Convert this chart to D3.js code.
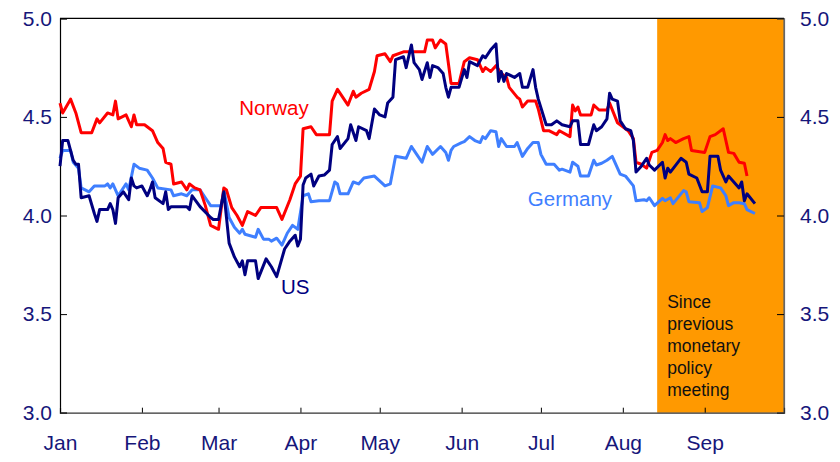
<!DOCTYPE html>
<html><head><meta charset="utf-8">
<script src="https://cdn.jsdelivr.net/npm/d3@7"></script>
<style>body{margin:0;background:#fff}svg{display:block;font-family:Arial,"Liberation Sans",sans-serif}</style>
</head><body><svg id="c" width="840" height="462"></svg>
<script>
const YEAR = 2008;
const monthLabels = ["Jan","Feb","Mar","Apr","May","Jun","Jul","Aug","Sep"];
const yTicks = [3.0, 3.5, 4.0, 4.5, 5.0];
const shadeStart = "08-14", shadeEnd = "10-01";
const shadeText = ["Since","previous","monetary","policy","meeting"];
const seriesNames = ["Norway","US","Germany"];
const norway = [["01-01",4.57],["01-02",4.52],["01-05",4.59],["01-07",4.52],["01-09",4.42],["01-13",4.42],["01-15",4.49],["01-16",4.47],["01-19",4.52],["01-21",4.51],["01-22",4.58],["01-23",4.49],["01-26",4.51],["01-28",4.45],["01-29",4.51],["01-30",4.46],["02-02",4.46],["02-05",4.43],["02-07",4.37],["02-09",4.34],["02-10",4.27],["02-12",4.26],["02-13",4.16],["02-16",4.17],["02-18",4.13],["02-19",4.16],["02-21",4.14],["02-23",4.13],["02-25",4.05],["02-27",3.95],["03-01",3.93],["03-03",4.14],["03-04",4.13],["03-06",4.04],["03-08",4.00],["03-10",3.95],["03-12",4.02],["03-15",4.00],["03-17",4.04],["03-19",4.04],["03-23",4.04],["03-25",3.98],["03-28",4.08],["03-30",4.16],["04-01",4.20],["04-02",4.44],["04-05",4.45],["04-07",4.41],["04-12",4.41],["04-13",4.58],["04-15",4.64],["04-19",4.56],["04-21",4.63],["04-22",4.60],["04-24",4.62],["04-27",4.64],["04-29",4.73],["04-30",4.81],["05-03",4.82],["05-05",4.78],["05-06",4.81],["05-10",4.83],["05-18",4.83],["05-19",4.89],["05-21",4.89],["05-22",4.85],["05-24",4.89],["05-26",4.87],["05-28",4.67],["05-31",4.67],["06-02",4.78],["06-04",4.80],["06-07",4.79],["06-09",4.73],["06-10",4.75],["06-12",4.73],["06-14",4.76],["06-16",4.72],["06-18",4.70],["06-19",4.65],["06-22",4.60],["06-23",4.59],["06-24",4.55],["06-26",4.58],["06-29",4.58],["06-30",4.54],["07-02",4.43],["07-04",4.43],["07-07",4.41],["07-08",4.43],["07-12",4.40],["07-13",4.56],["07-14",4.53],["07-15",4.55],["07-16",4.51],["07-20",4.51],["07-21",4.56],["07-23",4.535],["07-26",4.535],["07-27",4.57],["07-30",4.47],["08-03",4.43],["08-05",4.39],["08-06",4.27],["08-08",4.26],["08-10",4.24],["08-12",4.32],["08-14",4.33],["08-16",4.37],["08-17",4.41],["08-18",4.38],["08-19",4.39],["08-21",4.37],["08-24",4.39],["08-26",4.40],["08-27",4.33],["09-01",4.32],["09-03",4.40],["09-05",4.41],["09-08",4.44],["09-10",4.32],["09-12",4.315],["09-14",4.27],["09-16",4.265],["09-17",4.20]];
const us = [["01-01",4.25],["01-02",4.38],["01-04",4.38],["01-06",4.28],["01-07",4.26],["01-08",4.26],["01-09",4.09],["01-12",4.10],["01-14",4.01],["01-15",3.97],["01-16",4.03],["01-19",4.03],["01-20",4.06],["01-21",4.03],["01-22",3.96],["01-23",4.09],["01-25",4.12],["01-27",4.08],["01-28",4.19],["01-29",4.15],["01-30",4.14],["02-01",4.15],["02-03",4.10],["02-04",4.13],["02-05",4.17],["02-06",4.09],["02-09",4.06],["02-10",4.12],["02-11",4.03],["02-12",4.045],["02-18",4.045],["02-19",4.03],["02-20",4.10],["02-23",4.045],["02-27",3.99],["02-28",3.98],["03-01",3.98],["03-03",4.12],["03-05",3.86],["03-07",3.79],["03-09",3.74],["03-10",3.77],["03-11",3.70],["03-12",3.77],["03-15",3.77],["03-16",3.68],["03-19",3.78],["03-21",3.74],["03-23",3.69],["03-26",3.83],["03-28",3.87],["03-30",3.90],["03-31",3.845],["04-01",3.88],["04-02",4.155],["04-03",4.19],["04-05",4.21],["04-06",4.15],["04-08",4.20],["04-10",4.205],["04-12",4.23],["04-13",4.36],["04-15",4.40],["04-16",4.34],["04-19",4.39],["04-20",4.46],["04-22",4.38],["04-23",4.45],["04-26",4.43],["04-27",4.39],["04-29",4.54],["05-01",4.51],["05-03",4.50],["05-04",4.57],["05-06",4.60],["05-07",4.79],["05-10",4.805],["05-11",4.75],["05-13",4.865],["05-14",4.775],["05-16",4.74],["05-17",4.69],["05-19",4.775],["05-20",4.70],["05-21",4.76],["05-23",4.75],["05-25",4.72],["05-26",4.65],["05-27",4.60],["05-28",4.65],["05-31",4.65],["06-02",4.74],["06-03",4.70],["06-04",4.78],["06-07",4.76],["06-09",4.81],["06-10",4.80],["06-12",4.84],["06-14",4.87],["06-15",4.68],["06-16",4.73],["06-17",4.68],["06-18",4.72],["06-21",4.70],["06-23",4.72],["06-24",4.65],["06-26",4.65],["06-28",4.74],["06-29",4.65],["06-30",4.59],["07-03",4.46],["07-05",4.46],["07-07",4.48],["07-09",4.46],["07-12",4.45],["07-13",4.48],["07-15",4.48],["07-16",4.36],["07-19",4.36],["07-21",4.46],["07-22",4.43],["07-24",4.45],["07-26",4.49],["07-27",4.62],["07-28",4.59],["07-30",4.58],["07-31",4.48],["08-02",4.44],["08-04",4.43],["08-05",4.38],["08-06",4.22],["08-08",4.25],["08-10",4.29],["08-11",4.256],["08-13",4.23],["08-16",4.27],["08-17",4.19],["08-18",4.24],["08-19",4.22],["08-23",4.29],["08-25",4.27],["08-26",4.21],["08-29",4.19],["08-31",4.12],["09-02",4.12],["09-03",4.30],["09-06",4.30],["09-07",4.23],["09-09",4.17],["09-10",4.20],["09-14",4.14],["09-15",4.17],["09-16",4.075],["09-17",4.11],["09-20",4.06]];
const germany = [["01-01",4.29],["01-02",4.33],["01-05",4.33],["01-06",4.27],["01-08",4.24],["01-09",4.14],["01-12",4.12],["01-14",4.15],["01-18",4.15],["01-19",4.16],["01-20",4.14],["01-21",4.16],["01-23",4.10],["01-26",4.16],["01-27",4.13],["01-29",4.26],["01-31",4.24],["02-03",4.23],["02-05",4.19],["02-07",4.14],["02-12",4.13],["02-13",4.10],["02-16",4.11],["02-18",4.10],["02-20",4.13],["02-23",4.13],["02-25",4.09],["02-27",4.05],["03-02",4.05],["03-03",4.13],["03-05",3.99],["03-07",3.94],["03-09",3.91],["03-10",3.93],["03-11",3.905],["03-15",3.89],["03-16",3.93],["03-18",3.88],["03-20",3.88],["03-21",3.87],["03-23",3.885],["03-25",3.85],["03-27",3.91],["03-29",3.95],["03-31",3.93],["04-02",4.10],["04-04",4.11],["04-05",4.07],["04-08",4.075],["04-12",4.075],["04-14",4.17],["04-15",4.16],["04-16",4.11],["04-19",4.11],["04-21",4.17],["04-23",4.16],["04-25",4.19],["04-29",4.20],["05-03",4.15],["05-05",4.16],["05-07",4.30],["05-11",4.29],["05-13",4.35],["05-15",4.31],["05-17",4.27],["05-19",4.35],["05-21",4.31],["05-24",4.35],["05-26",4.32],["05-27",4.28],["05-28",4.33],["05-29",4.35],["06-01",4.37],["06-02",4.375],["06-04",4.40],["06-06",4.38],["06-08",4.37],["06-09",4.40],["06-10",4.39],["06-12",4.43],["06-14",4.425],["06-15",4.35],["06-16",4.39],["06-18",4.35],["06-21",4.35],["06-22",4.37],["06-24",4.30],["06-26",4.34],["06-28",4.37],["06-30",4.37],["07-01",4.31],["07-03",4.26],["07-06",4.26],["07-08",4.23],["07-09",4.235],["07-12",4.22],["07-13",4.27],["07-15",4.25],["07-16",4.20],["07-19",4.20],["07-21",4.28],["07-22",4.256],["07-24",4.265],["07-26",4.28],["07-28",4.30],["07-31",4.21],["08-02",4.20],["08-05",4.15],["08-06",4.075],["08-09",4.08],["08-10",4.075],["08-11",4.09],["08-13",4.05],["08-16",4.087],["08-17",4.075],["08-19",4.09],["08-20",4.06],["08-24",4.126],["08-25",4.12],["08-26",4.07],["08-30",4.065],["08-31",4.02],["09-02",4.04],["09-04",4.15],["09-07",4.14],["09-09",4.10],["09-10",4.05],["09-12",4.065],["09-14",4.065],["09-16",4.06],["09-17",4.03],["09-20",4.01]];

const parse = s => d3.timeParse("%Y-%m-%d")(YEAR + "-" + s);
const m = {left: 60, right: 784, top: 18.3, bottom: 412.7};
const svg = d3.select("#c");
const x = d3.scaleTime().domain([parse("01-01"), parse("10-01")]).range([m.left, m.right]);
const y = d3.scaleLinear().domain([3, 5]).range([m.bottom, m.top]);
const navyText = "#16167a";
const FONT = "Arial, 'Liberation Sans', sans-serif";

// shaded period
svg.append("rect")
  .attr("x", x(parse(shadeStart))).attr("y", m.top)
  .attr("width", x(parse(shadeEnd)) - x(parse(shadeStart)))
  .attr("height", m.bottom - m.top)
  .attr("fill", "#ff9900");

// frame
svg.append("line").attr("x1", m.left).attr("x2", m.right).attr("y1", m.top).attr("y2", m.top).attr("stroke", "#000").attr("stroke-width", 1.2);
svg.append("line").attr("x1", m.right).attr("x2", m.right).attr("y1", m.top).attr("y2", m.bottom).attr("stroke", "#666").attr("stroke-width", 1.2);

// axes
const yLeft = d3.axisLeft(y).tickValues(yTicks).tickSize(-7).tickPadding(8).tickFormat(d3.format(".1f"));
const yRight = d3.axisRight(y).tickValues(yTicks).tickSize(-7).tickPadding(16).tickFormat(d3.format(".1f"));
const months = d3.range(1, 10).map(i => parse(String(i).padStart(2, "0") + "-01"));
const xAxis = d3.axisBottom(x).tickValues(months).tickSize(-5).tickPadding(22).tickFormat((d, i) => monthLabels[i]);

function style(g, col) {
  g.select(".domain").attr("stroke", col).attr("stroke-width", 1.2);
  g.selectAll(".tick line").attr("stroke", "#000").attr("stroke-width", 1);
  g.selectAll(".tick text").attr("fill", navyText).attr("font-size", 21).attr("font-family", FONT);
}
svg.append("g").attr("transform", `translate(${m.left},0)`).call(yLeft).call(g => style(g, "#000"));
svg.append("g").attr("transform", `translate(${m.right},0)`).call(yRight).call(g => style(g, "#666"))
  .call(g => g.selectAll(".tick text").attr("text-anchor", "start"));
svg.append("g").attr("transform", `translate(0,${m.bottom})`).call(xAxis).call(g => style(g, "#333"));

// lines
const line = d3.line().x(d => x(parse(d[0]))).y(d => y(d[1]));
const colors = {Norway: "#ff0000", US: "#000080", Germany: "#3f7fff"};
const dataMap = {Norway: norway, US: us, Germany: germany};
["Germany", "Norway", "US"].forEach(n => {
  svg.append("path").datum(dataMap[n]).attr("d", line)
    .attr("fill", "none").attr("stroke", colors[n]).attr("stroke-width", 3)
    .attr("stroke-linejoin", "round");
});

// series labels
const labelPos = {Norway: ["03-22", 4.51], US: ["03-30", 3.6], Germany: ["07-12", 4.05]};
seriesNames.forEach(n => {
  svg.append("text").attr("x", x(parse(labelPos[n][0]))).attr("y", y(labelPos[n][1]))
    .attr("text-anchor", "middle").attr("fill", colors[n]).attr("font-size", 20.5)
    .attr("font-family", FONT).text(n);
});

// shaded text
svg.append("g").selectAll("text").data(shadeText).join("text")
  .attr("x", x(parse(shadeStart)) + 10)
  .attr("y", (d, i) => 308 + i * 22)
  .attr("fill", "#111").attr("font-size", 17.5).attr("font-family", FONT).text(d => d);
</script></body></html>
